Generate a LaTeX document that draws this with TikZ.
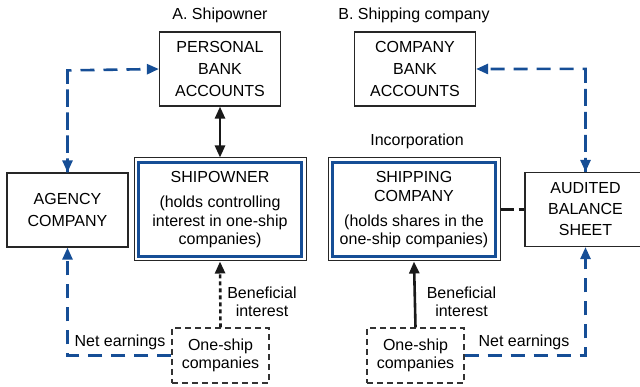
\documentclass[tikz,border=0pt]{standalone}
\usepackage{fontspec}
\setmainfont{Liberation Sans}
\usetikzlibrary{arrows.meta}
\definecolor{dblue}{RGB}{22,78,150}
\tikzset{
  every node/.style={font=\fontsize{16}{22}\selectfont, inner sep=0pt, align=center},
  plainbox/.style={draw=black!85, line width=1.2pt, minimum width=121pt, minimum height=74pt},
  outerbox/.style={draw=black!85, line width=1pt, minimum width=172pt, minimum height=103pt},
  innerbox/.style={draw=dblue, line width=3pt, minimum width=163pt, minimum height=94pt},
  dashbox/.style={draw=black!80, line width=1.2pt, dash pattern=on 6pt off 4pt, minimum width=97pt, minimum height=55pt},
  tip/.style={-{Triangle[length=12pt,width=10pt]}},
  bluelink/.style={draw=dblue, line width=2.6pt, dash pattern=on 14pt off 9pt},
  blacklink/.style={draw=black!90, line width=2.6pt},
  dotlink/.style={draw=black!90, line width=2.6pt, dash pattern=on 4pt off 3pt},
  tight/.style={font=\fontsize{16}{18.5}\selectfont},
}
\begin{document}
\begin{tikzpicture}[x=1pt,y=-1pt]
\useasboundingbox (0,0) rectangle (640,387);
\clip (0,0) rectangle (640,387);
% titles
\node (tA) at (220,15) {A. Shipowner};
\node (tB) at (414,15) {B. Shipping company};
\node (inc) at (417,141) {Incorporation};
% left side
\node[plainbox] (pba) at (220,69) {PERSONAL\\BANK\\ACCOUNTS};
\node[plainbox] (agency) at (67.5,210) {AGENCY\\COMPANY};
\node[outerbox] (so) at (220,209.5) {};
\node[innerbox] (soi) at (so) {};
\node[tight] (sot) at (220,210) {SHIPOWNER\\[6.5pt](holds controlling\\interest in one-ship\\companies)};
\node[dashbox,tight] (os1) at (220.5,355.5) {One-ship\\companies};
\node[tight] (ben1) at (262,302) {Beneficial\\interest};
\node (net1) at (120,342) {Net earnings};
% right side
\node[plainbox] (cba) at (415,69) {COMPANY\\BANK\\ACCOUNTS};
\node[plainbox,font=\fontsize{16}{21}\selectfont] (abs) at (585.5,209.5) {AUDITED\\BALANCE\\SHEET};
\node[outerbox] (sc) at (414,209.5) {};
\node[innerbox] (sci) at (sc) {};
\node[tight] (sct) at (414,210) {SHIPPING\\COMPANY\\[6.5pt](holds shares in the\\one-ship companies)};
\node[dashbox,tight] (os2) at (415.5,355.5) {One-ship\\companies};
\node[tight] (ben2) at (461.5,302) {Beneficial\\interest};
\node (net2) at (524,342) {Net earnings};
% connectors left
\draw[bluelink,tip] (agency.north) -- ++(0,-102) coordinate (cA) -- (pba.west);
\draw[bluelink,tip] (cA) -- (agency.north);
\draw[bluelink,tip] (os1.west) -| (agency.south);
\draw[blacklink,{Triangle[length=12pt,width=10pt]}-{Triangle[length=12pt,width=10pt]}] (pba.south) -- (so.north);
\draw[dotlink,tip] (os1.north) -- (so.south);
% connectors right
\draw[bluelink,tip] (abs.north) -- ++(0,-103) coordinate (cB) -- (cba.east);
\draw[bluelink,tip] (cB) -- (abs.north);
\draw[bluelink,tip] (os2.east) -| (abs.south);
\draw[blacklink,tip] (os2.north) -- (sc.south);
\draw[draw=black!90, line width=2.6pt, dash pattern=on 13pt off 5pt] (sc.east) -- (abs.west);
\end{tikzpicture}
\end{document}
